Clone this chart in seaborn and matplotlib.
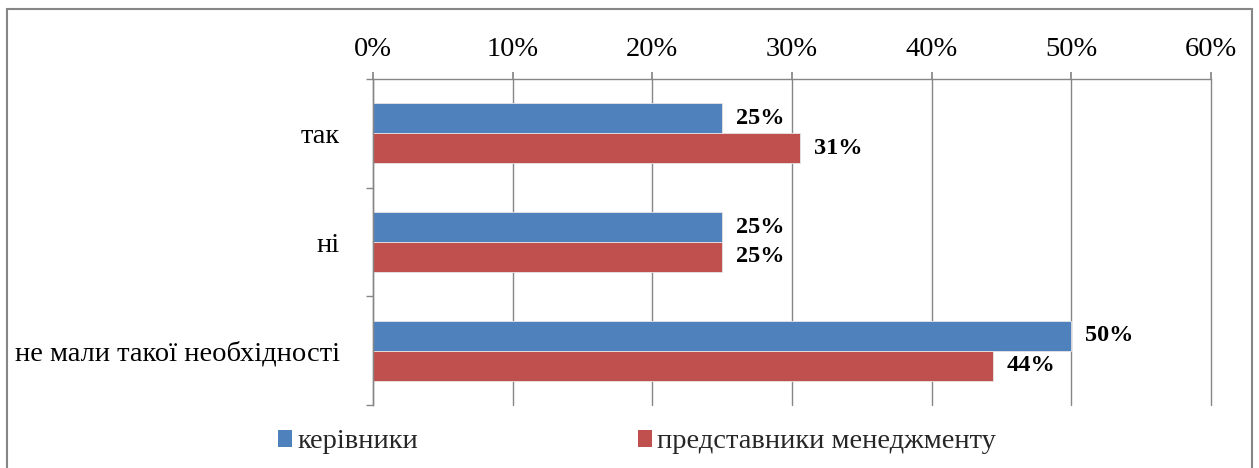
import pandas as pd
import matplotlib.pyplot as plt
import matplotlib.ticker as ticker
from matplotlib.patches import Rectangle, Patch
import seaborn as sns

categories = ["так", "ні", "не мали такої необхідності"]
series_names = ["керівники", "представники менеджменту"]
kerivnyky = [25, 25, 50]
menedzhment = [30.6, 25, 44.4]
x_ticks = [0, 10, 20, 30, 40, 50, 60]
colors = ["#4F81BD", "#C0504D"]

df = pd.DataFrame({
    "Category": categories * 2,
    "Group": [series_names[0]] * 3 + [series_names[1]] * 3,
    "Value": kerivnyky + menedzhment,
})

sns.set_theme(style="white")
plt.rcParams["font.family"] = ["Liberation Serif", "DejaVu Serif"]

fig = plt.figure(figsize=(12.59, 4.68), dpi=100)
ax = fig.add_axes([373 / 1259, 1 - 405 / 468, (1211 - 373) / 1259, (405 - 79) / 468])

sns.barplot(data=df, y="Category", x="Value", hue="Group", order=categories,
            hue_order=series_names, palette=colors, orient="h", width=0.55,
            saturation=1, ax=ax, legend=False, edgecolor="#e6e6e6", linewidth=0.6)

# value labels
for container in ax.containers:
    ax.bar_label(container, labels=[f"{v:.0f}%" for v in container.datavalues],
                 padding=10, fontsize=17.5, fontweight="bold", color="black")

ax.set_xlim(0, 60)
ax.set_ylim(2.5, -0.5)
ax.set_xticks(x_ticks)
ax.xaxis.set_major_formatter(ticker.FuncFormatter(lambda v, _: f"{v:.0f}%"))
ax.xaxis.tick_top()
ax.tick_params(axis="x", which="major", top=True, bottom=False, length=5,
               color="#868686", labelsize=20.5, pad=7, labelcolor="black")
ax.set_yticks(range(len(categories)))
ax.set_yticks([-0.5, 0.5, 1.5, 2.5], minor=True)
ax.tick_params(axis="y", which="major", length=0, labelsize=20.5, pad=24, labelcolor="black")
ax.tick_params(axis="y", which="minor", left=True, length=5, color="#868686", width=1)
ax.set_xlabel("")
ax.set_ylabel("")

ax.grid(axis="x", color="#868686", linewidth=1)
for line in ax.get_xgridlines():
    line.set_clip_on(False)
ax.set_axisbelow(True)
for side in ["right", "bottom"]:
    ax.spines[side].set_visible(False)
for side in ["top", "left"]:
    ax.spines[side].set_color("#868686")
    ax.spines[side].set_linewidth(1)

# legend
handles = [Patch(facecolor=c, edgecolor="none") for c in colors]
fig.legend(handles, series_names, loc="center", bbox_to_anchor=(637 / 1259, 1 - 442 / 468),
           ncol=2, frameon=False, fontsize=20.5, handlelength=0.5, handleheight=0.5,
           handletextpad=0.2, columnspacing=7.7, borderpad=0)

# outer border (bottom edge runs off the canvas)
fig.patches.append(Rectangle((7 / 1259, -0.05), 1245 / 1259, 1.05 - 9 / 468,
                             transform=fig.transFigure, fill=False,
                             edgecolor="#868686", linewidth=1.5))

fig.savefig("out.png", dpi=100)
